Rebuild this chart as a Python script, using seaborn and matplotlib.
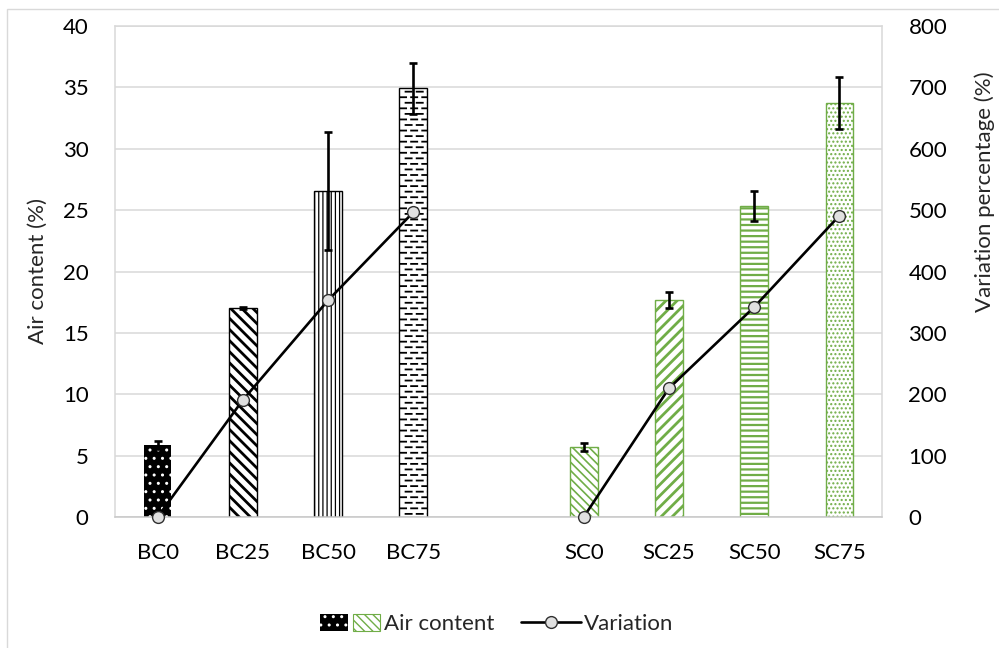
import warnings
import numpy as np
import pandas as pd
import matplotlib
matplotlib.use("Agg")
import matplotlib.pyplot as plt
from matplotlib import hatch as mhatch
from matplotlib.path import Path
from matplotlib.patches import Rectangle
from matplotlib.lines import Line2D
from matplotlib.legend_handler import HandlerTuple
import seaborn as sns

warnings.filterwarnings("ignore")

# ---- data ----
bc_labels = ["BC0", "BC25", "BC50", "BC75"]
sc_labels = ["SC0", "SC25", "SC50", "SC75"]
bc_air = [5.87, 17.0, 26.55, 34.92]
sc_air = [5.68, 17.68, 25.34, 33.70]
bc_err = [0.35, 0.08, 4.8, 2.1]
sc_err = [0.33, 0.65, 1.22, 2.12]
bc_variation = [0, 190.6, 353, 496.5]
sc_variation = [0, 209.7, 342, 491]
left_ticks = [0, 5, 10, 15, 20, 25, 30, 35, 40]
right_ticks = [0, 100, 200, 300, 400, 500, 600, 700, 800]

GREEN = "#70AD47"
GRID = "#d9d9d9"


# dashed horizontal hatch, selected with "_"
class DashedRows(mhatch.HatchPatternBase):
    def __init__(self, hatch, density):
        self.num_rows = int(hatch.count("_") * density)
        self.num_dashes = max(self.num_rows // 2, 1) if self.num_rows else 0
        self.num_vertices = self.num_rows * self.num_dashes * 2

    def set_vertices_and_codes(self, vertices, codes):
        period = 1.0 / self.num_dashes
        dash = period * 0.55
        i = 0
        for r in range(self.num_rows):
            y = (r + 0.5) / self.num_rows
            shift = 0.0 if r % 2 == 0 else period / 2
            for d in range(self.num_dashes):
                x0 = (d * period + shift) % 1.0
                vertices[i] = (x0, y)
                vertices[i + 1] = (min(x0 + dash, 1.0), y)
                codes[i] = Path.MOVETO
                codes[i + 1] = Path.LINETO
                i += 2


mhatch._hatch_types.append(DashedRows)

sns.set_style("white")
plt.rcParams["font.family"] = ["Lato", "DejaVu Sans"]
plt.rcParams["font.size"] = 16

blank = " "
order = bc_labels + [blank] + sc_labels
labels = bc_labels + sc_labels
df = pd.DataFrame({
    "sample": labels,
    "air": bc_air + sc_air,
    "err": bc_err + sc_err,
    "variation": bc_variation + sc_variation,
    "group": ["BC"] * 4 + ["SC"] * 4,
})
df["pos"] = [order.index(s) for s in df["sample"]]

# face, edge/hatch colour, hatch, hatch width, edge width
styles = {
    "BC0": ("black", "white", "..", 1.0, 0.0),
    "BC25": ("white", "black", "\\\\\\", 2.0, 1.0),
    "BC50": ("white", "black", "||||", 0.9, 1.0),
    "BC75": ("white", "black", "___", 1.3, 1.0),
    "SC0": ("white", GREEN, "\\\\\\\\", 1.2, 1.0),
    "SC25": ("white", GREEN, "///", 2.0, 1.0),
    "SC50": ("white", GREEN, "---", 1.6, 1.0),
    "SC75": ("white", GREEN, "....", 1.0, 1.0),
}

fig = plt.figure(figsize=(9.99, 6.48), dpi=100)
ax = fig.add_axes([115 / 999, 1 - 517 / 648, 767 / 999, 491 / 648])

sns.barplot(data=df, x="sample", y="air", order=order, color="white",
            width=0.325, errorbar=None, ax=ax, zorder=2)

for p in ax.patches:
    cx = p.get_x() + p.get_width() / 2
    idx = int(round(cx))
    name = order[idx]
    if name not in styles:
        continue
    face, edge, hatch, hlw, elw = styles[name]
    p.set_facecolor(face)
    p.set_edgecolor(edge)
    p.set_hatch(hatch)
    p.set_linewidth(elw)
    if hasattr(p, "set_hatch_linewidth"):
        p.set_hatch_linewidth(hlw)

ax.errorbar(df["pos"], df["air"], yerr=df["err"], fmt="none", ecolor="black",
            elinewidth=1.9, capsize=3.2, capthick=1.9, zorder=4)

ax.set_xlim(-0.5, len(order) - 0.5)
ax.set_ylim(0, 40)
ax.set_yticks(left_ticks)
ax.set_xticks(range(len(order)))
ax.set_xticklabels(order)
ax.set_xlabel("")
ax.set_ylabel("")
ax.yaxis.grid(True, color=GRID, linewidth=1.1, zorder=0)
ax.set_axisbelow(True)
ax.tick_params(axis="both", length=0, labelsize=16, colors="black")
ax.tick_params(axis="y", pad=19)
ax.tick_params(axis="x", pad=19)
for s in ax.spines.values():
    s.set_color(GRID)
    s.set_linewidth(1.1)
ax.spines["bottom"].set_color("#c8c8c8")

ax2 = ax.twinx()
sns.lineplot(data=df, x="pos", y="variation", units="group", estimator=None,
             color="black", linewidth=1.9, marker="o", markersize=8.5,
             markerfacecolor="#e0e0e0", markeredgecolor="#303030",
             markeredgewidth=1.0, ax=ax2, zorder=5)
for ln in ax2.lines:
    ln.set_clip_on(False)
ax2.set_ylim(0, 800)
ax2.set_yticks(right_ticks)
ax2.set_xlim(-0.5, len(order) - 0.5)
ax2.set_xlabel("")
ax2.set_ylabel("")
ax2.tick_params(axis="y", length=0, labelsize=16, colors="black", pad=19)
for s in ax2.spines.values():
    s.set_visible(False)

fig.text(38 / 999, 1 - 271 / 648, "Air content (%)", rotation=90,
         ha="center", va="center", fontsize=16)
fig.text(985 / 999, 1 - 192 / 648, "Variation percentage (%)", rotation=90,
         ha="center", va="center", fontsize=16)

# legend
h_black = Rectangle((0, 0), 1, 1, facecolor="black", edgecolor="white",
                    hatch="..", linewidth=0)
h_green = Rectangle((0, 0), 1, 1, facecolor="white", edgecolor=GREEN,
                    hatch="\\\\\\\\", linewidth=0.8)
h_line = Line2D([], [], color="black", linewidth=1.9, marker="o",
                markersize=8.5, markerfacecolor="#e0e0e0",
                markeredgecolor="#303030", markeredgewidth=1.0)
fig.legend(handles=[(h_black, h_green), h_line],
           labels=["Air content", "Variation"],
           handler_map={tuple: HandlerTuple(ndivide=None, pad=0.25)},
           loc="center", bbox_to_anchor=(497 / 999, 1 - 624 / 648),
           ncol=2, frameon=False, fontsize=16, handlelength=2.7,
           handleheight=0.8, handletextpad=0.15, columnspacing=1.2)

# chart border
fig.patches.append(Rectangle((7 / 999, -0.2), 1.5, 1.2 - 9 / 648,
                             transform=fig.transFigure, fill=False,
                             edgecolor=GRID, linewidth=1.0))

fig.savefig("out.png", dpi=100)
